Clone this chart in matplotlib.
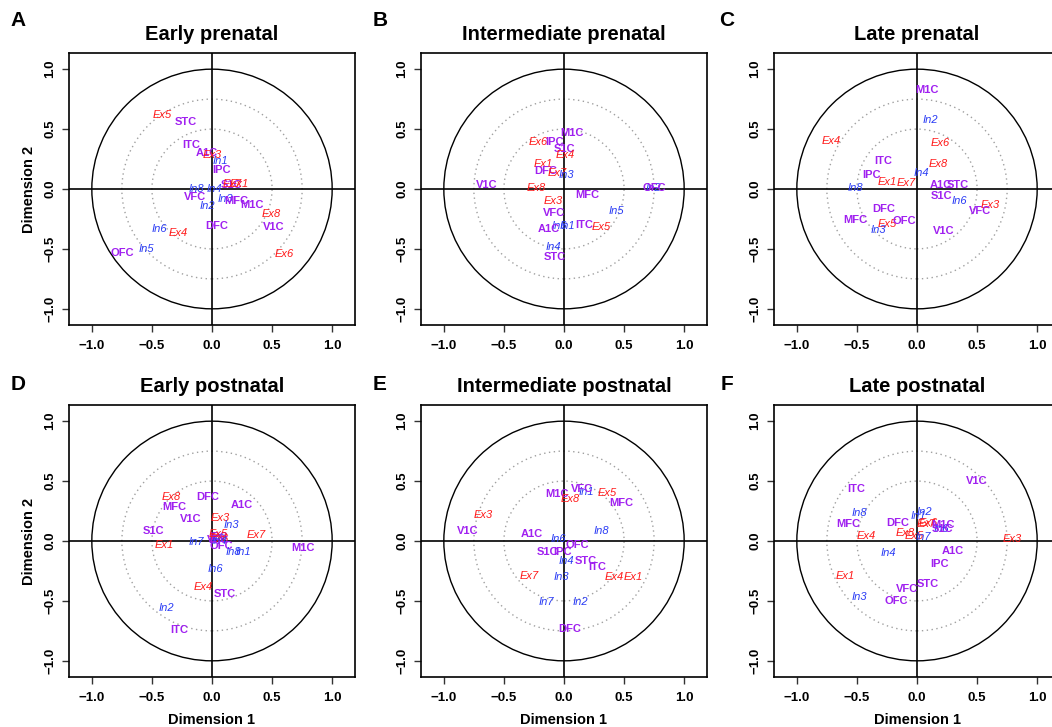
import matplotlib
matplotlib.use("Agg")
import matplotlib.pyplot as plt
from matplotlib.patches import Circle

plt.rcParams["font.family"] = ["Liberation Sans", "DejaVu Sans"]

# label coordinates
a_labels = ["Ex5", "STC", "ITC", "A1C", "Ex3", "In1", "IPC", "S1C", "Ex7", "Ex1",
            "In8", "In4", "VFC", "In3", "MFC", "In2", "M1C", "Ex8", "DFC", "V1C",
            "In6", "Ex4", "OFC", "In5", "Ex6"]
a_x = [-0.41, -0.22, -0.17, -0.04, 0.005, 0.07, 0.08, 0.16, 0.17, 0.23,
       -0.13, 0.02, -0.14, 0.11, 0.20, -0.04, 0.33, 0.49, 0.04, 0.51,
       -0.44, -0.28, -0.75, -0.55, 0.60]
a_y = [0.62, 0.56, 0.37, 0.30, 0.28, 0.23, 0.16, 0.03, 0.04, 0.04,
       0.0, 0.0, -0.07, -0.08, -0.10, -0.14, -0.13, -0.21, -0.31, -0.32,
       -0.33, -0.37, -0.53, -0.50, -0.54]

b_labels = ["M1C", "Ex6", "IPC", "S1C", "Ex4", "Ex1", "DFC", "Ex7", "In3", "V1C",
            "Ex8", "In2", "OFC", "MFC", "Ex3", "VFC", "In5", "In6", "In1", "A1C",
            "ITC", "Ex5", "In4", "STC"]
b_x = [0.07, -0.21, -0.08, 0.0, 0.01, -0.175, -0.15, -0.06, 0.02, -0.64,
       -0.23, 0.74, 0.75, 0.19, -0.09, -0.08, 0.44, -0.04, 0.03, -0.125,
       0.17, 0.31, -0.09, -0.08]
b_y = [0.47, 0.39, 0.39, 0.33, 0.28, 0.21, 0.15, 0.13, 0.12, 0.03,
       0.005, 0.01, 0.01, -0.05, -0.10, -0.20, -0.18, -0.31, -0.31, -0.33,
       -0.30, -0.32, -0.48, -0.57]

c_labels = ["M1C", "In2", "Ex4", "Ex6", "ITC", "Ex8", "IPC", "In4", "Ex1", "Ex7",
            "A1C", "STC", "In8", "S1C", "In6", "Ex3", "VFC", "DFC", "MFC", "Ex5",
            "OFC", "In3", "V1C"]
c_x = [0.08, 0.11, -0.71, 0.19, -0.28, 0.18, -0.375, 0.04, -0.25, -0.09,
       0.20, 0.34, -0.51, 0.20, 0.35, 0.61, 0.52, -0.28, -0.51, -0.25,
       -0.11, -0.32, 0.225]
c_y = [0.83, 0.58, 0.40, 0.38, 0.23, 0.21, 0.12, 0.13, 0.06, 0.05,
       0.03, 0.03, 0.01, -0.06, -0.10, -0.13, -0.18, -0.17, -0.26, -0.29,
       -0.27, -0.34, -0.35]

d_labels = ["Ex8", "DFC", "A1C", "MFC", "V1C", "Ex3", "In3", "S1C", "Ex7", "Ex1",
            "In7", "In5", "IPC", "Ex6", "VFC", "In4", "Ex5", "OFC", "In8", "In1",
            "M1C", "In6", "Ex4", "STC", "In2", "ITC"]
d_x = [-0.34, -0.04, 0.25, -0.31, -0.18, 0.07, 0.16, -0.49, 0.37, -0.40,
       -0.13, 0.04, 0.05, 0.06, 0.05, 0.06, 0.05, 0.08, 0.18, 0.26,
       0.76, 0.03, -0.07, 0.11, -0.38, -0.27]
d_y = [0.37, 0.37, 0.30, 0.28, 0.18, 0.19, 0.13, 0.08, 0.05, -0.03,
       -0.005, 0.02, 0.03, 0.02, 0.01, 0.0, 0.06, -0.04, -0.09, -0.09,
       -0.06, -0.23, -0.38, -0.44, -0.56, -0.74]

e_labels = ["In1", "VFC", "M1C", "Ex8", "Ex5", "MFC", "Ex3", "V1C", "A1C", "In8",
            "In6", "OFC", "S1C", "IPC", "In4", "STC", "ITC", "Ex7", "In3", "Ex4",
            "Ex1", "In7", "In2", "DFC"]
e_x = [0.19, 0.15, -0.06, 0.05, 0.36, 0.48, -0.675, -0.80, -0.27, 0.31,
       -0.05, 0.11, -0.14, -0.01, 0.02, 0.18, 0.28, -0.29, -0.02, 0.42,
       0.575, -0.15, 0.14, 0.05]
e_y = [0.41, 0.43, 0.39, 0.35, 0.40, 0.32, 0.22, 0.085, 0.055, 0.08,
       0.02, -0.03, -0.09, -0.09, -0.17, -0.165, -0.22, -0.29, -0.30, -0.30,
       -0.30, -0.51, -0.51, -0.735]

f_labels = ["V1C", "ITC", "In8", "In2", "In1", "MFC", "DFC", "Ex6", "Ex7", "M1C",
            "In6", "S1C", "Ex8", "Ex4", "Ex5", "In7", "Ex3", "A1C", "In4", "IPC",
            "Ex1", "STC", "VFC", "In3", "OFC"]
f_x = [0.50, -0.51, -0.48, 0.064, 0.01, -0.57, -0.16, 0.09, 0.08, 0.22,
       0.20, 0.21, -0.10, -0.42, -0.02, 0.05, 0.79, 0.30, -0.24, 0.19,
       -0.60, 0.09, -0.08, -0.48, -0.17]
f_y = [0.50, 0.43, 0.23, 0.24, 0.21, 0.14, 0.15, 0.15, 0.146, 0.13,
       0.10, 0.097, 0.07, 0.045, 0.04, 0.03, 0.02, -0.08, -0.10, -0.19,
       -0.29, -0.36, -0.40, -0.47, -0.50]

panels = [
    ("A", "Early prenatal", a_labels, a_x, a_y),
    ("B", "Intermediate prenatal", b_labels, b_x, b_y),
    ("C", "Late prenatal", c_labels, c_x, c_y),
    ("D", "Early postnatal", d_labels, d_x, d_y),
    ("E", "Intermediate postnatal", e_labels, e_x, e_y),
    ("F", "Late postnatal", f_labels, f_x, f_y),
]

W, H = 1052, 727
fig = plt.figure(figsize=(W / 100, H / 100), dpi=100)

lefts = [69, 421, 774]
tops = [53, 405]
aw, ah = 286, 272


def label_style(name):
    if name.startswith("Ex"):
        return dict(color="#FF1A1A", style="italic", weight="normal")
    if name.startswith("In"):
        return dict(color="#2A3CF5", style="italic", weight="normal")
    return dict(color="#A020F0", style="normal", weight="bold")


for i, (letter, title, labels, xs, ys) in enumerate(panels):
    row, col = divmod(i, 3)
    l, t = lefts[col], tops[row]
    ax = fig.add_axes([l / W, (H - t - ah) / H, aw / W, ah / H])
    ax.set_xlim(-1.19, 1.19)
    ax.set_ylim(-1.135, 1.135)

    ax.add_patch(Circle((0, 0), 1.0, fill=False, ec="black", lw=1.0))
    for r in (0.5, 0.75):
        ax.add_patch(Circle((0, 0), r, fill=False, ec="#a0a0a0", lw=1.0, ls=(0, (1, 2.5))))
    ax.axhline(0, color="black", lw=1.2)
    ax.axvline(0, color="black", lw=1.2)

    for name, x, y in zip(labels, xs, ys):
        ax.text(x, y, name, ha="center", va="center", fontsize=8, **label_style(name))

    ticks = [-1.0, -0.5, 0.0, 0.5, 1.0]
    ax.set_xticks(ticks)
    ax.set_yticks(ticks)
    ax.set_xticklabels([f"{v:.1f}".replace("-", "\u2212") for v in ticks],
                       fontweight="bold", fontsize=9.5)
    ax.set_yticklabels([f"{v:.1f}".replace("-", "\u2212") for v in ticks],
                       fontweight="bold", fontsize=9.5, rotation=90, va="center")
    ax.tick_params(length=5, width=1.0, color="#333333")
    ax.tick_params(axis="x", pad=6)
    ax.tick_params(axis="y", pad=4)
    for s in ax.spines.values():
        s.set_linewidth(1.2)

    ax.set_title(title, fontsize=14.5, fontweight="bold", pad=9)
    if col == 0:
        ax.set_ylabel("Dimension 2", fontsize=10.5, fontweight="bold", labelpad=6)
    if row == 1:
        ax.set_xlabel("Dimension 1", fontsize=10.5, fontweight="bold", labelpad=6)

    lx = [18, 380, 727][col]
    ly = [21, 385][row]
    fig.text(lx / W, 1 - ly / H, letter, fontsize=15, fontweight="bold",
             ha="center", va="center")

fig.savefig("out.png", dpi=100)
